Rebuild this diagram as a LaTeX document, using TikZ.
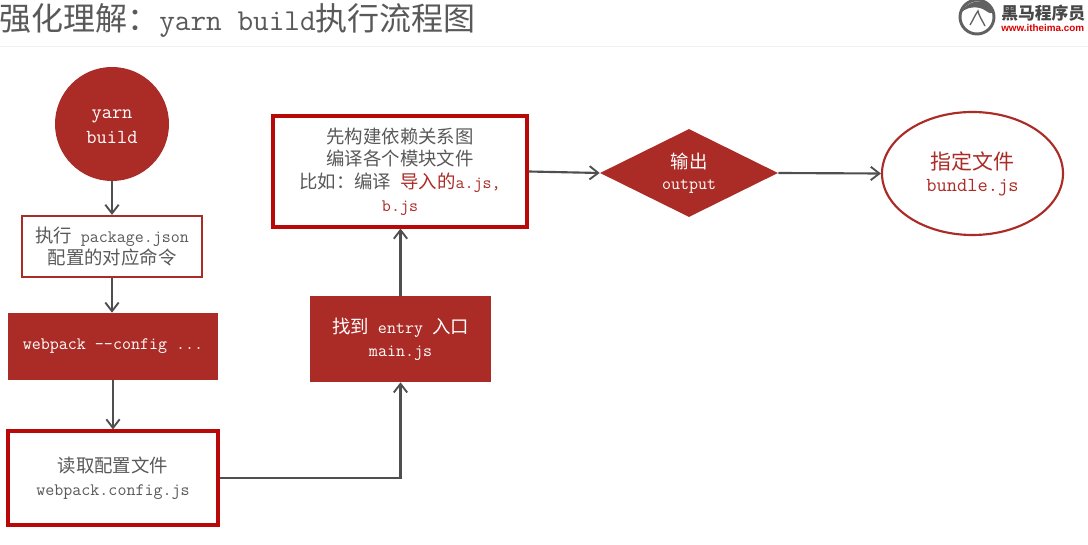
\documentclass[tikz,border=0pt]{standalone}
\usepackage{fontspec}
\setmonofont[Scale=0.95]{Latin Modern Mono}
\newfontfamily\cjk{Noto Sans CJK SC}
\newfontfamily\logosans{Liberation Sans}
\usetikzlibrary{arrows.meta,shapes.geometric}
\newcommand\zh[1]{{\cjk #1}}
\definecolor{brick}{HTML}{AB2B26}
\definecolor{boxred}{HTML}{B80808}
\definecolor{inkgray}{HTML}{595959}
\definecolor{linegray}{HTML}{4F4F4F}
\tikzset{
  x=0.75pt,y=-0.75pt,
  txt/.style={font=\ttfamily\fontsize{13.8pt}{17pt}\selectfont,align=center,inner sep=0pt},
  txtbig/.style={font=\ttfamily\fontsize{15.7pt}{18.6pt}\selectfont,align=center,inner sep=0pt},
  thinbox/.style={txt,draw=brick,line width=1.6pt,fill=white,text=inkgray,minimum width=180*0.75pt,minimum height=61*0.75pt},
  thickbox/.style={txt,draw=boxred,line width=2.3pt,fill=white,text=inkgray},
  solidbox/.style={txt,fill=brick,text=white},
  flow/.style={draw=linegray,line width=1.6pt,-{Straight Barb[length=6.5pt,width=10pt,line width=1.4pt]}},
  titletext/.style={font=\ttfamily\fontsize{24pt}{28pt}\selectfont,text=inkgray,inner sep=0pt,anchor=west},
}
\begin{document}
\begin{tikzpicture}
\fill[white] (0,0) rectangle (1088,545);
\useasboundingbox (0,0) rectangle (1088,545);
% header
\node[titletext] (title) at (-1,21) {\zh{强化理解：}yarn build\zh{执行流程图}};
\draw[draw=black!6,line width=0.75pt] (0,47) -- (1088,47);
% logo
\draw[black!62,line width=2.2pt] (977,17) circle (17);
\fill[black!62] (962,12) .. controls (966,1) and (984,-4) .. (994,10)
   .. controls (993,14) and (990,14) .. (986,11)
   .. controls (980,6) and (968,6) .. (962,12) -- cycle;
\draw[black!62,line width=1pt] (970,25) .. controls (973,20) and (975,15) .. (978,11)
   .. controls (979,16) and (982,20) .. (985,26);
\node[font=\cjk\bfseries\fontsize{12.6pt}{14pt}\selectfont,text=black!72,inner sep=0pt,anchor=west] (logoname) at (1001,13) {黑马程序员};
\node[font=\logosans\bfseries\fontsize{7.4pt}{10pt}\selectfont,text=red!85!black,inner sep=0pt,anchor=west] (logourl) at (1001,28) {www.itheima.com};
% nodes
\node[txtbig,circle,fill=brick,text=white,minimum size=114*0.75pt] (start) at (112,124) {\rule{0pt}{10.5pt}yarn\\[0.7pt]build};
\node[thinbox] (pkg) at (112,246.5) {\zh{执行} package.json\\\zh{配置的对应命令}};
\node[solidbox,minimum width=210*0.75pt,minimum height=67*0.75pt] (wp) at (113,346.5) {webpack --config ...};
\node[thickbox,minimum width=210*0.75pt,minimum height=94*0.75pt] (cfg) at (113,478) {\zh{读取配置文件}\\webpack.config.js};
\node[solidbox,minimum width=181*0.75pt,minimum height=86*0.75pt] (entry) at (400.5,339) {\zh{找到} entry \zh{入口}\\main.js};
\node[thickbox,minimum width=254*0.75pt,minimum height=111*0.75pt] (dep) at (400,171.5) {\zh{先构建依赖关系图}\\\zh{编译各个模块文件}\\\zh{比如：编译} \textcolor{brick}{\zh{导入的}a.js,}\\\textcolor{brick}{b.js}};
\node[txt,diamond,fill=brick,text=white,aspect=2,minimum width=178*0.75pt,minimum height=88*0.75pt] (out) at (689,173) {\zh{输出}\\[-1pt]output};
\node[txtbig,ellipse,draw=brick,line width=1.6pt,fill=white,text=brick,minimum width=181*0.75pt,minimum height=123*0.75pt] (res) at (972.5,173.5) {\zh{指定文件}\\[-2pt]bundle.js};
% connectors
\draw[flow] (start.south) -- (pkg.north);
\draw[flow] (pkg.south) -- (pkg.south |- wp.north);
\draw[flow] (wp.south) -- (cfg.north);
\draw[flow] (cfg.east) -| (entry.south);
\draw[flow] (entry.north) -- (entry.north |- dep.south);
\draw[flow] (dep.east) -- (out.west);
\draw[flow] (out.east) -- (res.west);
\end{tikzpicture}
\end{document}
